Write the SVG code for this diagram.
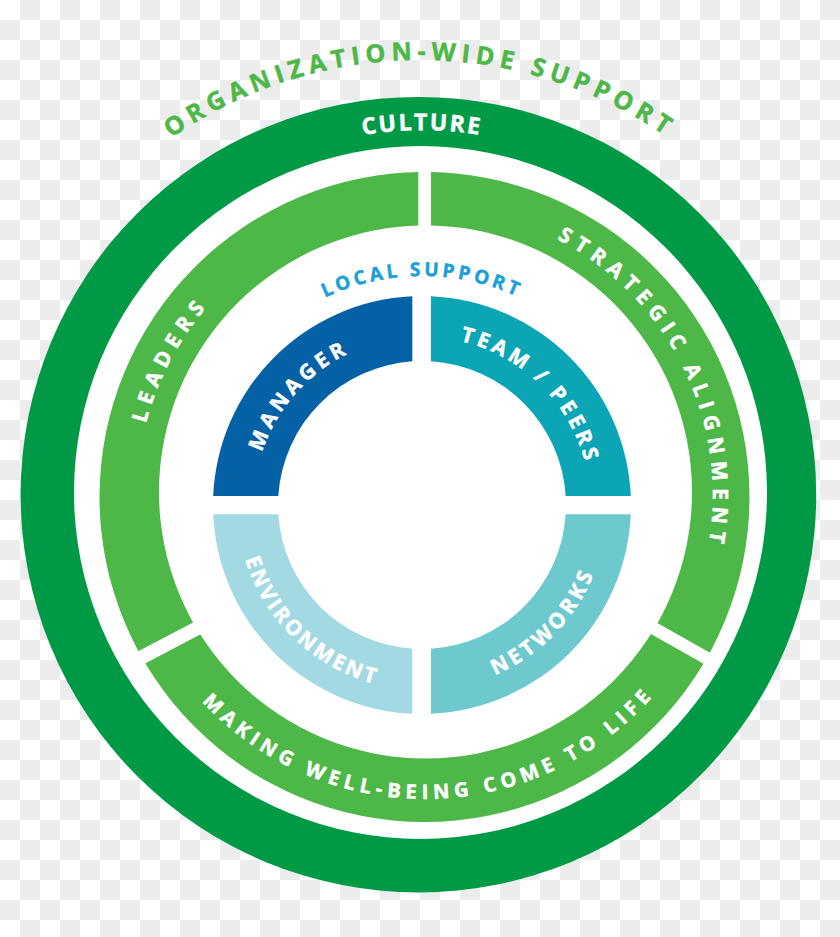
<svg xmlns="http://www.w3.org/2000/svg" xmlns:xlink="http://www.w3.org/1999/xlink" width="840" height="937" viewBox="0 0 840 937">
<style>
.t{font-family:"Open Sans","Liberation Sans",sans-serif;font-weight:700;stroke-width:0.5;}
.w{fill:#ffffff;stroke:#ffffff;}
.g2{fill:#4db848;}
.g2t{fill:#4db848;stroke:#4db848;}
.lb{fill:#1c9fd9;stroke:#1c9fd9;}
.dk{fill:#009a47;}
</style>
<defs>
<pattern id="checker" patternUnits="userSpaceOnUse" width="40" height="40">
<rect width="40" height="40" fill="#ffffff"/>
<rect x="20" y="0" width="20" height="20" fill="#ececec"/>
<rect x="0" y="20" width="20" height="20" fill="#ececec"/>
</pattern>
<path id="greenRing" fill-rule="evenodd" d="M99.5,497 A325,325 0 1 1 749.5,497 A325,325 0 1 1 99.5,497 Z M159,492 A266.5,266.5 0 1 1 692,492 A266.5,266.5 0 1 1 159,492 Z"/>
<clipPath id="clipLeaders"><polygon points="0,723.7 418.3,504.5 418.3,0 0,0"/></clipPath>
<clipPath id="clipStrategic"><polygon points="431,0 840,0 840,726 431,495.3"/></clipPath>
<clipPath id="clipMaking"><polygon points="0,739.4 434.3,511.8 840,740.7 840,937 0,937"/></clipPath>
<path id="pOrg" d="M-13.34,457.09 A435,435 0 0 1 853.34,457.09"/>
<path id="pCulture" d="M59.4,462.27 A364,364 0 0 1 784.6,462.27"/>
<path id="pLocal" d="M193.87,485.04 A229,229 0 0 1 650.13,485.04"/>
<path id="pLeaders" d="M268.14,736.54 A288,288 0 0 1 537.53,229.9"/>
<path id="pStrategic" d="M321.79,226.13 A288,288 0 0 1 573.33,741.86"/>
<path id="pMaking" d="M122.67,526.78 A304,304 0 0 0 728.26,516.21"/>
<path id="pManager" d="M299.57,620.77 A168.5,168.5 0 0 1 522.46,369.72"/>
<path id="pTeam" d="M312.79,376.68 A168.5,168.5 0 0 1 551.83,612.41"/>
<path id="pEnv" d="M277.42,389.58 A185,185 0 0 0 544.34,643.77"/>
<path id="pNet" d="M305.83,648.97 A185,185 0 0 0 561.44,383.38"/>
</defs>

<g id="background">
<rect width="840" height="937" fill="url(#checker)"/>
</g>

<g id="culture">
<circle cx="418.4" cy="494.7" r="397.8" class="dk"/>
<circle cx="420.5" cy="492.5" r="346.5" fill="#ffffff"/>
<text class="t w" font-size="23" letter-spacing="2.2" text-anchor="middle"><textPath href="#pCulture" startOffset="50%">CULTURE</textPath></text>
</g>

<g id="organization-wide-support">
<text class="t g2t" font-size="25" letter-spacing="5.6" text-anchor="middle"><textPath href="#pOrg" startOffset="50%">ORGANIZATION-WIDE SUPPORT</textPath></text>
</g>

<g id="leaders">
<use href="#greenRing" class="g2" clip-path="url(#clipLeaders)"/>
<text class="t w" font-size="21" letter-spacing="6.6" text-anchor="middle"><textPath href="#pLeaders" startOffset="50%">LEADERS</textPath></text>
</g>

<g id="strategic-alignment">
<use href="#greenRing" class="g2" clip-path="url(#clipStrategic)"/>
<text class="t w" font-size="21" letter-spacing="6.6" text-anchor="middle"><textPath href="#pStrategic" startOffset="50%">STRATEGIC ALIGNMENT</textPath></text>
</g>

<g id="making-well-being">
<use href="#greenRing" class="g2" clip-path="url(#clipMaking)"/>
<text class="t w" font-size="20" letter-spacing="5.3" text-anchor="middle"><textPath href="#pMaking" startOffset="50%">MAKING WELL-BEING COME TO LIFE</textPath></text>
</g>

<g id="local-support">
<text class="t lb" font-size="19" letter-spacing="3.6" text-anchor="middle"><textPath href="#pLocal" startOffset="50%">LOCAL SUPPORT</textPath></text>
</g>

<g id="manager">
<path fill="#0561a5" d="M412.3,296.23 L412.3,361.33 A144,144 0 0 0 278.28,496 L213.19,496 A209,209 0 0 1 412.3,296.23 Z"/>
<text class="t w" font-size="21" letter-spacing="4.4" text-anchor="middle"><textPath href="#pManager" startOffset="50%">MANAGER</textPath></text>
</g>

<g id="team-peers">
<path fill="#0ba5b5" d="M431,296.19 A209,209 0 0 1 630.81,496 L565.72,496 A144,144 0 0 0 431,361.28 Z"/>
<text class="t w" font-size="21" letter-spacing="3.8" text-anchor="middle"><textPath href="#pTeam" startOffset="50%">TEAM / PEERS</textPath></text>
</g>

<g id="environment">
<path fill="#a3d9e3" d="M213.21,514.3 L278.3,514.3 A144,144 0 0 0 412.3,648.67 L412.3,713.77 A209,209 0 0 1 213.21,514.3 Z"/>
<text class="t w" font-size="21" letter-spacing="2.9" text-anchor="middle"><textPath href="#pEnv" startOffset="50%">ENVIRONMENT</textPath></text>
</g>

<g id="networks">
<path fill="#6dc9cd" d="M431,648.72 A144,144 0 0 0 565.7,514.3 L630.79,514.3 A209,209 0 0 1 431,713.81 Z"/>
<text class="t w" font-size="21" letter-spacing="3.8" text-anchor="middle"><textPath href="#pNet" startOffset="50%">NETWORKS</textPath></text>
</g>

<g id="connectors"></g>
</svg>
